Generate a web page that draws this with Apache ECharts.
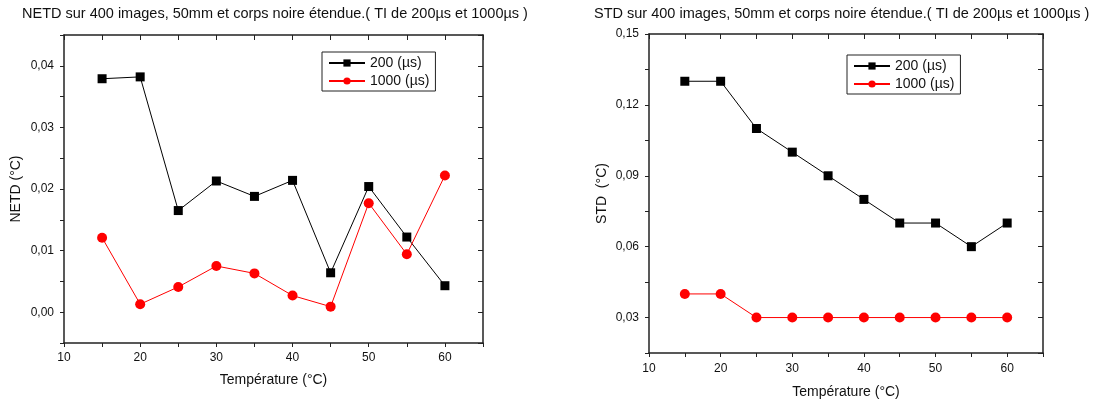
<!DOCTYPE html>
<html><head><meta charset="utf-8">
<script src="https://cdn.jsdelivr.net/npm/echarts@6/dist/echarts.min.js"></script>
<style>html,body{margin:0;padding:0;background:#fff}#c{width:1105px;height:405px}</style>
</head><body><div id="c"></div>
<script>
const temps = [15, 20, 25, 30, 35, 40, 45, 50, 55, 60];
const netd200 = [0.0379, 0.0382, 0.0165, 0.0213, 0.0188, 0.0214, 0.0064, 0.0204, 0.0122, 0.0043];
const netd1000 = [0.0121, 0.0013, 0.0041, 0.0075, 0.0063, 0.0027, 0.0009, 0.0177, 0.0094, 0.0222];
const std200 = [0.13, 0.13, 0.11, 0.10, 0.09, 0.08, 0.07, 0.07, 0.06, 0.07];
const std1000 = [0.04, 0.04, 0.03, 0.03, 0.03, 0.03, 0.03, 0.03, 0.03, 0.03];
const seriesNames = ['200 (µs)', '1000 (µs)'];
const titles = ['NETD sur 400 images, 50mm et corps noire étendue.( TI de 200µs et 1000µs )',
                'STD sur 400 images, 50mm et corps noire étendue.( TI de 200µs et 1000µs )'];
const yNames = ['NETD (°C)', 'STD  (°C)'];
const xName = 'Température (°C)';

const FONT = 'Liberation Sans';
const AX = {onZero: false, lineStyle: {color: '#222', width: 1.5}};
const pair = arr => arr.map((v, i) => [temps[i], v]);
const isMult = (v, s) => Math.abs(v / s - Math.round(v / s)) < 1e-6;
const fmtX = v => isMult(v, 10) ? String(v) : '';

function xAxes(grid, margin, gap) {
  return [
    {gridIndex: grid, type: 'value', position: 'bottom', min: 10, max: 65, interval: 5,
     axisLine: AX, splitLine: {show: false},
     axisTick: {inside: false, length: 4, lineStyle: {color: '#222'}},
     axisLabel: {formatter: fmtX, color: '#111', fontSize: 12, fontFamily: FONT, margin: margin},
     name: xName, nameLocation: 'middle', nameGap: gap,
     nameTextStyle: {fontSize: 14, fontFamily: FONT, color: '#111'}},
    {gridIndex: grid, type: 'value', position: 'top', min: 10, max: 65, interval: 5,
     axisLine: AX, splitLine: {show: false},
     axisTick: {inside: true, length: 5, lineStyle: {color: '#222'}},
     axisLabel: {show: false}}
  ];
}
function yAxes(grid, min, max, step, labStep, name, gap) {
  return [
    {gridIndex: grid, type: 'value', position: 'left', min: min, max: max, interval: step,
     axisLine: AX, splitLine: {show: false},
     axisTick: {inside: false, length: 4, lineStyle: {color: '#222'}},
     axisLabel: {formatter: v => isMult(v, labStep) ? v.toFixed(2).replace('.', ',') : '',
                 color: '#111', fontSize: 12, fontFamily: FONT, margin: 10,
                 showMinLabel: true, showMaxLabel: true},
     name: name, nameLocation: 'middle', nameGap: gap,
     nameTextStyle: {fontSize: 14, fontFamily: FONT, color: '#111'}},
    {gridIndex: grid, type: 'value', position: 'right', min: min, max: max, interval: step,
     axisLine: AX, splitLine: {show: false},
     axisTick: {inside: true, length: 5, lineStyle: {color: '#222'}},
     axisLabel: {show: false}}
  ];
}
function mk(name, data, color, symbol, size, xi, yi) {
  return {name: name, type: 'line', xAxisIndex: xi, yAxisIndex: yi, data: data,
          symbol: symbol, symbolSize: size, showSymbol: true, animation: false,
          lineStyle: {color: color, width: 1}, itemStyle: {color: color}};
}
function legend(left, top) {
  return {orient: 'vertical', left: left, top: top, data: seriesNames,
          borderColor: '#222', borderWidth: 1, padding: [4, 6, 3, 6], itemGap: 4,
          itemWidth: 36, itemHeight: 9,
          textStyle: {fontSize: 14, fontFamily: FONT, color: '#111'}};
}

const chart = echarts.init(document.getElementById('c'), null, {renderer: 'canvas'});
chart.setOption({
  backgroundColor: '#fff',
  animation: false,
  title: [
    {text: titles[0], left: 22, top: 6, padding: 0, textStyle: {fontSize: 14.5, fontWeight: 'normal', fontFamily: FONT, color: '#111'}},
    {text: titles[1], left: 594, top: 6, padding: 0, textStyle: {fontSize: 14.5, fontWeight: 'normal', fontFamily: FONT, color: '#111'}}
  ],
  legend: [legend(322, 52), legend(847, 55)],
  grid: [
    {left: 64, right: 622, top: 35, bottom: 62},
    {left: 649, right: 62, top: 34, bottom: 52}
  ],
  xAxis: [...xAxes(0, 9, 30), ...xAxes(1, 10, 32)],
  yAxis: [...yAxes(0, -0.005, 0.045, 0.005, 0.01, yNames[0], 41),
          ...yAxes(1, 0.015, 0.15, 0.015, 0.03, yNames[1], 40)],
  series: [
    mk(seriesNames[0], pair(netd200), '#000', 'rect', 9, 0, 0),
    mk(seriesNames[1], pair(netd1000), '#ff0000', 'circle', 10, 0, 0),
    mk(seriesNames[0], pair(std200), '#000', 'rect', 9, 2, 2),
    mk(seriesNames[1], pair(std1000), '#ff0000', 'circle', 10, 2, 2)
  ]
});
</script></body></html>
